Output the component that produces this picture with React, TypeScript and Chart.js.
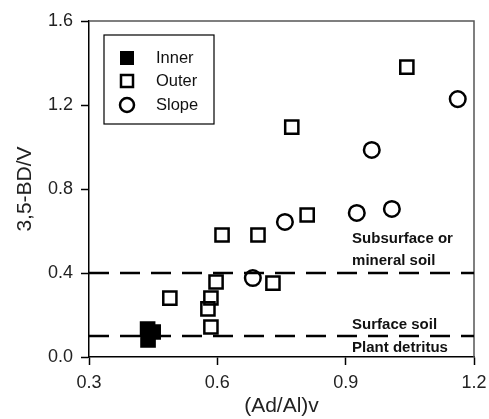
import React, { useEffect, useRef } from "react";
import { Chart, registerables } from "chart.js";

Chart.register(...registerables);

const innerX = [0.437, 0.45, 0.438];
const innerY = [0.133, 0.119, 0.081];

const outerX = [0.489, 0.597, 0.585, 0.578, 0.585, 0.611, 0.695, 0.73, 0.81, 0.774, 1.043];
const outerY = [0.28, 0.357, 0.281, 0.229, 0.143, 0.581, 0.581, 0.352, 0.676, 1.095, 1.38];

const slopeX = [0.683, 0.758, 0.926, 1.008, 0.961, 1.162];
const slopeY = [0.376, 0.643, 0.686, 0.705, 0.986, 1.228];

const thresholds = [0.4, 0.1];
const seriesNames = ["Inner", "Outer", "Slope"];
const xTitle = "(Ad/Al)v";
const yTitle = "3,5-BD/V";

const FONT = "'Liberation Sans', Arial, sans-serif";

const pts = (xs: number[], ys: number[]) => xs.map((x, i) => ({ x, y: ys[i] }));

const overlayPlugin = {
  id: "overlay",
  afterDatasetsDraw(chart: any) {
    const { ctx, chartArea, scales } = chart;
    const { left, right, top, bottom } = chartArea;
    ctx.save();
    // top and right frame
    ctx.strokeStyle = "#555";
    ctx.lineWidth = 1.5;
    ctx.beginPath();
    ctx.moveTo(left, top);
    ctx.lineTo(right, top);
    ctx.lineTo(right, bottom);
    ctx.stroke();

    // dashed threshold lines
    ctx.strokeStyle = "#000";
    ctx.lineWidth = 2.5;
    ctx.setLineDash([20, 11]);
    const ys = thresholds.map((t) => scales.y.getPixelForValue(t));
    ys.forEach((y: number) => {
      ctx.beginPath();
      ctx.moveTo(left, y);
      ctx.lineTo(right, y);
      ctx.stroke();
    });
    ctx.setLineDash([]);

    // annotations
    ctx.fillStyle = "#111";
    ctx.font = `bold 15px ${FONT}`;
    ctx.textAlign = "left";
    ctx.textBaseline = "middle";
    const ax = scales.x.getPixelForValue(0.915);
    ctx.fillText("Subsurface or", ax, ys[0] - 34);
    ctx.fillText("mineral soil", ax, ys[0] - 12);
    ctx.fillText("Surface soil", ax, ys[1] - 11);
    ctx.fillText("Plant detritus", ax, ys[1] + 12);

    // legend
    const bx = left + 15;
    const by = top + 14;
    ctx.strokeStyle = "#000";
    ctx.lineWidth = 1.2;
    ctx.strokeRect(bx, by, 110, 89);
    const rows = [by + 23, by + 46, by + 70];
    ctx.font = `16.5px ${FONT}`;
    ctx.fillStyle = "#111";
    rows.forEach((ry, i) => {
      const mx = bx + 23;
      ctx.lineWidth = 2.5;
      ctx.strokeStyle = "#000";
      if (i === 0) {
        ctx.fillStyle = "#000";
        ctx.fillRect(mx - 7, ry - 7, 14, 14);
      } else if (i === 1) {
        ctx.strokeRect(mx - 6, ry - 6, 12, 12);
      } else {
        ctx.beginPath();
        ctx.arc(mx, ry, 7, 0, Math.PI * 2);
        ctx.stroke();
      }
      ctx.fillStyle = "#111";
      ctx.fillText(seriesNames[i], bx + 52, ry);
    });
    ctx.restore();
  },
};

export default function App() {
  const ref = useRef<HTMLCanvasElement | null>(null);
  useEffect(() => {
    if (!ref.current) return;
    const common = {
      borderColor: "#000",
      borderWidth: 2.5,
      showLine: false,
    };
    const chart = new Chart(ref.current, {
      type: "scatter",
      data: {
        datasets: [
          {
            ...common,
            label: seriesNames[0],
            data: pts(innerX, innerY),
            pointStyle: "rect",
            pointRadius: 9.3,
            backgroundColor: "#000",
          },
          {
            ...common,
            label: seriesNames[1],
            data: pts(outerX, outerY),
            pointStyle: "rect",
            pointRadius: 9.3,
            backgroundColor: "rgba(255,255,255,0)",
          },
          {
            ...common,
            label: seriesNames[2],
            data: pts(slopeX, slopeY),
            pointStyle: "circle",
            pointRadius: 7.8,
            backgroundColor: "rgba(255,255,255,0)",
          },
        ],
      },
      options: {
        animation: false,
        responsive: false,
        events: [],
        layout: { padding: { top: 21, right: 15, left: 0, bottom: 0 } },
        plugins: { legend: { display: false }, tooltip: { enabled: false } },
        scales: {
          x: {
            type: "linear",
            min: 0.3,
            max: 1.2,
            afterFit: (s: any) => {
              s.height = 62;
              s.paddingLeft = 0;
              s.paddingRight = 0;
            },
            ticks: {
              stepSize: 0.3,
              color: "#222",
              font: { family: FONT, size: 18 },
              padding: 7,
              callback: (v: any) => Number(v).toFixed(1),
            },
            grid: {
              drawOnChartArea: false,
              drawTicks: true,
              tickLength: 8,
              tickWidth: 1.5,
              tickColor: "#000",
            },
            border: { color: "#000", width: 1.5 },
            title: {
              display: true,
              text: xTitle,
              color: "#222",
              font: { family: FONT, size: 21 },
              padding: { top: 0, bottom: 0 },
            },
          },
          y: {
            type: "linear",
            min: 0,
            max: 1.6,
            afterFit: (s: any) => {
              s.width = 89;
              s.paddingTop = 0;
              s.paddingBottom = 0;
            },
            ticks: {
              stepSize: 0.4,
              color: "#222",
              font: { family: FONT, size: 18 },
              padding: 8,
              callback: (v: any) => Number(v).toFixed(1),
            },
            grid: {
              drawOnChartArea: false,
              drawTicks: true,
              tickLength: 8,
              tickWidth: 1.5,
              tickColor: "#000",
            },
            border: { color: "#000", width: 1.5 },
            title: {
              display: true,
              text: yTitle,
              color: "#222",
              font: { family: FONT, size: 21 },
              padding: { top: 13, bottom: 0 },
            },
          },
        },
      },
      plugins: [overlayPlugin],
    } as any);
    return () => chart.destroy();
  }, []);
  return (
    <div style={{ position: "fixed", left: 0, top: 0, width: 489, height: 419, background: "#fff" }}>
      <canvas ref={ref} width={489} height={419} style={{ width: 489, height: 419 }} />
    </div>
  );
}
